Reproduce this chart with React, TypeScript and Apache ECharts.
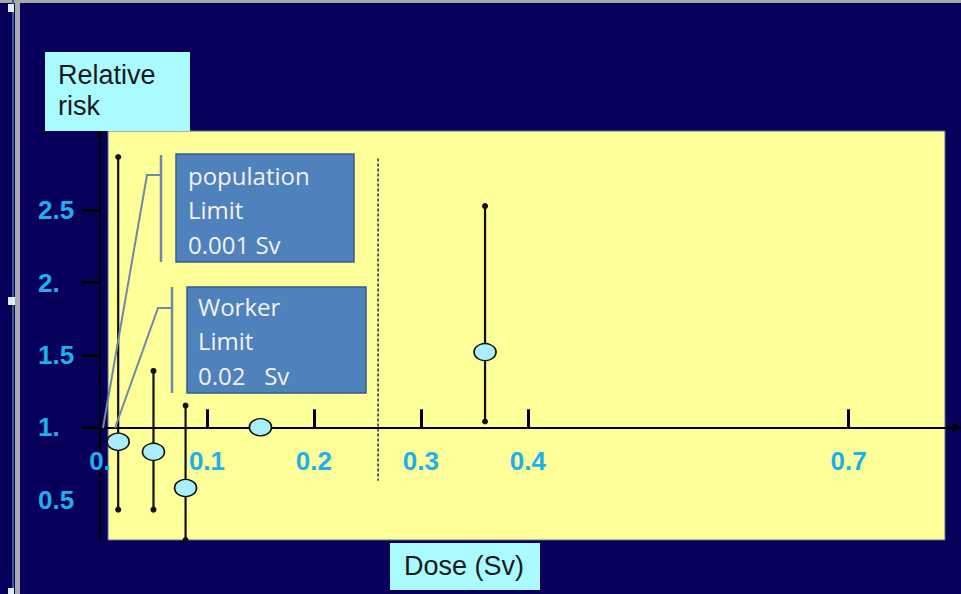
import React, { useEffect, useRef } from "react";
import * as echarts from "echarts";

// ---- data ----
const doses = [0.017, 0.05, 0.08, 0.15, 0.36];
const relativeRisk = [0.9, 0.83, 0.58, 1.0, 1.52];
const ciLower: (number | null)[] = [0.43, 0.43, 0.22, null, 1.04];
const ciUpper: (number | null)[] = [2.87, 1.39, 1.15, null, 2.53];
const xTickValues = [0.1, 0.2, 0.3, 0.4, 0.7];
const xLabelValues = [0, 0.1, 0.2, 0.3, 0.4, 0.7];
const yTickValues = [1, 1.5, 2, 2.5];
const yLabelValues = [0.5, 1, 1.5, 2, 2.5];
const thresholdDose = [0.26, 0.26];
const thresholdRisk = [2.86, 0.63];
const populationLines = ["population", "Limit", "0.001 Sv"];
const workerLines = ["Worker", "Limit", "0.02   Sv"];

const Y_MIN = 0.22;
const Y_MAX = 3.05;
const X_MIN = 0;
const X_MAX = 0.805;
const GRID = { left: 100, right: 0, top: 131, bottom: 54 };
const W = 961;
const H = 594;

const fmt = (v: number) => (Number.isInteger(v) ? `${v}.` : `${v}`);

export default function App() {
  const ref = useRef<HTMLDivElement>(null);
  useEffect(() => {
    if (!ref.current) return;
    const chart = echarts.init(ref.current, undefined, { renderer: "svg" });
    const gridH = H - GRID.top - GRID.bottom;
    const xOffset = -((1 - Y_MIN) / (Y_MAX - Y_MIN)) * gridH;

    const points = doses.map((d, i) => [d, relativeRisk[i]]);
    const bars = doses
      .map((d, i) => [d, ciLower[i], ciUpper[i]])
      .filter((r) => r[1] != null && r[2] != null);
    const threshold = thresholdDose.map((d, i) => [d, thresholdRisk[i]]);

    const navy = "#07005A";
    const boxBlue = "#4F81BD";
    const boxBorder = "#385D8A";
    const bracket = "#7088A8";
    const calloutFont = '24px "Open Sans", sans-serif';
    const cyanBox = "#AAFBFF";
    const titleFont = '27px "Liberation Sans", Arial, sans-serif';

    const calloutText = (lines: string[], x: number, y0: number) =>
      lines.map((t, i) => ({
        type: "text",
        z: 101,
        style: {
          text: t,
          x,
          y: y0 + i * 34.5,
          fill: "#F2F2F2",
          font: calloutFont,
          textVerticalAlign: "middle",
        },
      }));

    const option: any = {
      animation: false,
      backgroundColor: navy,
      grid: { ...GRID, containLabel: false },
      xAxis: {
        type: "value",
        min: X_MIN,
        max: X_MAX,
        offset: xOffset,
        splitLine: { show: false },
        axisLine: {
          show: true,
          onZero: false,
          symbol: ["none", "arrow"],
          symbolSize: [8, 10],
          lineStyle: { color: "#000", width: 2 },
        },
        axisTick: {
          show: true,
          inside: true,
          length: 18,
          customValues: xTickValues,
          lineStyle: { color: "#000", width: 3 },
        },
        axisLabel: {
          customValues: xLabelValues,
          formatter: fmt,
          color: "#1DB0EE",
          fontWeight: "bold",
          fontSize: 26,
          fontFamily: '"Liberation Sans", Arial, sans-serif',
          margin: 21,
        },
      },
      yAxis: {
        type: "value",
        min: Y_MIN,
        max: Y_MAX,
        splitLine: { show: false },
        axisLine: {
          show: true,
          onZero: false,
          symbol: ["none", "arrow"],
          symbolSize: [6, 8],
          lineStyle: { color: "#000", width: 2 },
        },
        axisTick: {
          show: true,
          length: 18,
          customValues: yTickValues,
          lineStyle: { color: "#000", width: 3 },
        },
        axisLabel: {
          customValues: yLabelValues,
          formatter: fmt,
          align: "left",
          margin: 62,
          color: "#1DB0EE",
          fontWeight: "bold",
          fontSize: 26,
          fontFamily: '"Liberation Sans", Arial, sans-serif',
        },
      },
      series: [
        {
          type: "line",
          data: threshold,
          symbol: "none",
          z: 3,
          lineStyle: { color: "#1C2470", width: 1.5, type: [3, 2] },
        },
        {
          type: "custom",
          data: bars,
          z: 4,
          renderItem: (params: any, api: any) => {
            const x = api.value(0);
            const top = api.coord([x, api.value(2)]);
            const bot = api.coord([x, api.value(1)]);
            return {
              type: "group",
              children: [
                {
                  type: "line",
                  shape: { x1: top[0], y1: top[1], x2: bot[0], y2: bot[1] },
                  style: { stroke: "#111", lineWidth: 2.2 },
                },
                {
                  type: "circle",
                  shape: { cx: top[0], cy: top[1], r: 3 },
                  style: { fill: "#111" },
                },
                {
                  type: "circle",
                  shape: { cx: bot[0], cy: bot[1], r: 3 },
                  style: { fill: "#111" },
                },
              ],
            };
          },
        },
        {
          type: "scatter",
          data: points,
          z: 5,
          symbol: "circle",
          symbolSize: [22, 17],
          itemStyle: { color: "#A9EEFA", borderColor: "#111", borderWidth: 1.5, opacity: 1 },
        },
      ],
      graphic: [
        // slide-frame artefacts
        { type: "rect", z: -5, shape: { x: 0, y: 0, width: W, height: 3 }, style: { fill: "#A8A8A8" } },
        { type: "rect", z: -5, shape: { x: 15, y: 0, width: 5, height: H }, style: { fill: "#ABABAB" } },
        { type: "rect", z: -5, shape: { x: 12, y: 0, width: 2, height: H }, style: { fill: "#3C5A96" } },
        { type: "rect", z: -4, shape: { x: 8, y: 4, width: 6, height: 8 }, style: { fill: "#DDEEFF" } },
        { type: "rect", z: -4, shape: { x: 8, y: 297, width: 7, height: 8 }, style: { fill: "#DDEEFF" } },
        { type: "rect", z: -4, shape: { x: 8, y: 588, width: 6, height: 6 }, style: { fill: "#DDEEFF" } },
        // yellow plot panel
        {
          type: "rect",
          z: -3,
          shape: { x: 108, y: 131, width: 837, height: 409 },
          style: { fill: "#FFFF99", stroke: "#5A6A8A", lineWidth: 1 },
        },
        // axis title boxes
        { type: "rect", z: 100, shape: { x: 45, y: 52, width: 145, height: 79 }, style: { fill: cyanBox } },
        {
          type: "text",
          z: 101,
          style: { text: "Relative", x: 58, y: 75, fill: "#1A1A1A", font: titleFont, textVerticalAlign: "middle" },
        },
        {
          type: "text",
          z: 101,
          style: { text: "risk", x: 58, y: 106, fill: "#1A1A1A", font: titleFont, textVerticalAlign: "middle" },
        },
        { type: "rect", z: 100, shape: { x: 390, y: 543, width: 150, height: 47 }, style: { fill: cyanBox } },
        {
          type: "text",
          z: 101,
          style: {
            text: "Dose (Sv)",
            x: 464,
            y: 566,
            fill: "#1A1A1A",
            font: titleFont,
            textAlign: "center",
            textVerticalAlign: "middle",
          },
        },
        // population callout
        {
          type: "polyline",
          z: 99,
          shape: { points: [[161, 175], [147, 175], [103, 428]] },
          style: { stroke: bracket, lineWidth: 2, fill: null },
        },
        { type: "line", z: 99, shape: { x1: 161, y1: 155, x2: 161, y2: 262 }, style: { stroke: bracket, lineWidth: 2.5 } },
        {
          type: "rect",
          z: 100,
          shape: { x: 176, y: 154, width: 178, height: 108 },
          style: { fill: boxBlue, stroke: boxBorder, lineWidth: 1.5 },
        },
        ...calloutText(populationLines, 188, 175),
        // worker callout
        {
          type: "polyline",
          z: 99,
          shape: { points: [[172, 308], [158, 308], [115, 428]] },
          style: { stroke: bracket, lineWidth: 2, fill: null },
        },
        { type: "line", z: 99, shape: { x1: 172, y1: 287, x2: 172, y2: 393 }, style: { stroke: bracket, lineWidth: 2.5 } },
        {
          type: "rect",
          z: 100,
          shape: { x: 187, y: 287, width: 179, height: 106 },
          style: { fill: boxBlue, stroke: boxBorder, lineWidth: 1.5 },
        },
        ...calloutText(workerLines, 198, 306),
      ],
    };
    chart.setOption(option);
    return () => chart.dispose();
  }, []);
  return <div ref={ref} style={{ position: "fixed", left: 0, top: 0, width: W, height: H }} />;
}
